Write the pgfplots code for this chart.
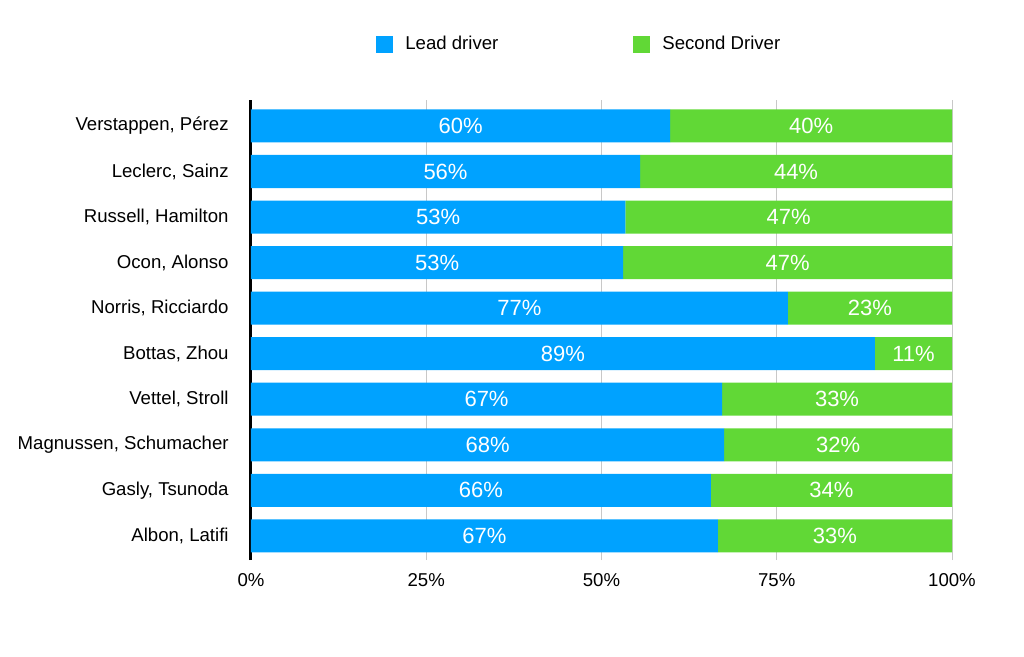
\documentclass[border=0pt]{standalone}
\usepackage{pgfplots}
\pgfplotsset{compat=1.18}
\usepackage{fontspec}
\setmainfont{Liberation Sans}
\definecolor{leadblue}{HTML}{00A2FF}
\definecolor{secgreen}{HTML}{61D836}
\definecolor{gridgray}{HTML}{C8C8C8}

\begin{document}
\begin{tikzpicture}
  \begin{axis}[
    name=main,
    scale only axis,
    width=350.5bp, height=230bp,
    xbar stacked,
    bar width=16.5bp,
    xmin=0, xmax=100,
    ymin=-0.53, ymax=9.57,
    axis x line*=bottom,
    axis y line*=left,
    x axis line style={draw=none},
    y axis line style={black, line width=1.5bp},
    xtick={0,25,50,75,100},
    xticklabels={0\%,25\%,50\%,75\%,100\%},
    xmajorgrids,
    grid style={gridgray, line width=0.5bp},
    major tick length=0pt,
    ytick={0,...,9},
    yticklabels={Albon{,} Latifi, Gasly{,} Tsunoda, Magnussen{,} Schumacher,
      Vettel{,} Stroll, Bottas{,} Zhou, Norris{,} Ricciardo, Ocon{,} Alonso,
      Russell{,} Hamilton, Leclerc{,} Sainz, Verstappen{,} Pérez},
    ticklabel style={font=\fontsize{9.3bp}{11bp}\selectfont},
    yticklabel style={inner sep=0pt, anchor=east, xshift=-11bp},
    xticklabel style={inner sep=0pt, anchor=center, yshift=-10bp},
    legend columns=2,
    legend style={at={(0.1783,1.1217)}, anchor=west, draw=none, fill=none,
      inner sep=0pt, font=\fontsize{9.3bp}{11bp}\selectfont,
      nodes={inner sep=0pt},
      /tikz/every odd column/.append style={column sep=6bp},
      /tikz/every even column/.append style={column sep=67.5bp}},
    legend image code/.code={\fill[#1] (0bp,-4.25bp) rectangle (8.5bp,4.25bp);},
  ]
    % lead driver share (Albon at the bottom)
    \addplot[fill=leadblue, draw=none] coordinates {
      (66.6,0) (65.6,1) (67.5,2) (67.2,3) (89.0,4)
      (76.6,5) (53.1,6) (53.4,7) (55.5,8) (59.8,9)
    };
    \addlegendentry{Lead driver}
    \addplot[fill=secgreen, draw=none] coordinates {
      (33.4,0) (34.4,1) (32.5,2) (32.8,3) (11.0,4)
      (23.4,5) (46.9,6) (46.6,7) (44.5,8) (40.2,9)
    };
    \addlegendentry{Second Driver}
  \end{axis}

  % labels in the middle of each segment
  \begin{axis}[
    at={(main.south west)}, anchor=south west,
    scale only axis,
    width=350.5bp, height=230bp,
    xmin=0, xmax=100,
    ymin=-0.53, ymax=9.57,
    hide axis,
    nodes near coords,
    point meta=explicit symbolic,
    every node near coord/.append style={anchor=center, white, inner sep=0pt,
      font=\fontsize{11bp}{13bp}\selectfont},
  ]
    \addplot[draw=none] coordinates {
      (33.3,0) [67\%] (32.8,1) [66\%] (33.75,2) [68\%] (33.6,3) [67\%]
      (44.5,4) [89\%] (38.3,5) [77\%] (26.55,6) [53\%] (26.7,7) [53\%]
      (27.75,8) [56\%] (29.9,9) [60\%]
    };
    \addplot[draw=none] coordinates {
      (83.3,0) [33\%] (82.8,1) [34\%] (83.75,2) [32\%] (83.6,3) [33\%]
      (94.5,4) [11\%] (88.3,5) [23\%] (76.55,6) [47\%] (76.7,7) [47\%]
      (77.75,8) [44\%] (79.9,9) [40\%]
    };
  \end{axis}

  \pgfresetboundingbox
  \path ([xshift=-125.5bp,yshift=-48.5bp]main.south west)
    rectangle ([xshift=36bp,yshift=50bp]main.north east);
\end{tikzpicture}
\end{document}
